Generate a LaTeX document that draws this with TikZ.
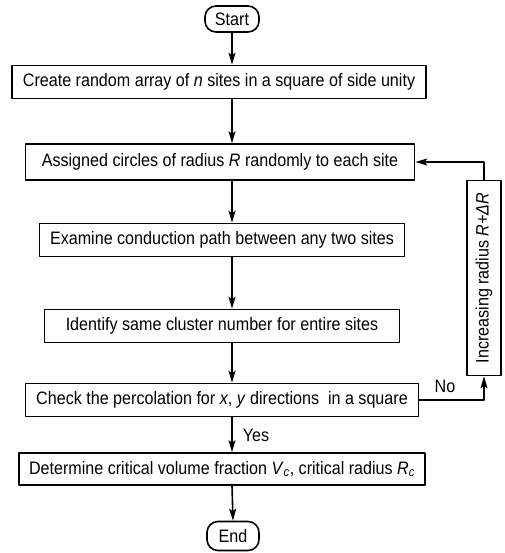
\documentclass[tikz,border=0pt]{standalone}
\usepackage{fontspec}
\setmainfont{Liberation Sans}[FakeStretch=0.895]
\usetikzlibrary{arrows.meta}
\tikzset{
  every picture/.style={line join=round, >={Stealth[length=12pt,width=7pt,inset=2.5pt]}},
  stepbox/.style={draw, line width=1.6pt, inner sep=0pt, minimum height=33pt},
  term/.style={draw, line width=1.6pt, rounded corners=11pt, inner sep=0pt, minimum width=54pt, minimum height=26pt},
  flow/.style={->, line width=1.6pt},
}
\newcommand{\subc}{\textsubscript{\itshape c}}

\begin{document}
\begin{tikzpicture}[x=1pt, y=-1pt, font=\fontsize{18}{20}\selectfont]
\useasboundingbox (0,0) rectangle (504,553);
\node[term] (start) at (232,19) {Start};
\node[stepbox, minimum width=414pt] (create) at (219,82) {Create random array of \textit{n} sites in a square of side unity};
\node[stepbox, minimum width=389pt, minimum height=36pt] (assign) at (220,162) {Assigned circles of radius \textit{R} randomly to each site};
\node[stepbox, minimum width=365pt] (examine) at (222,240) {Examine conduction path between any two sites};
\node[stepbox, minimum width=355pt] (identify) at (222,326) {Identify same cluster number for entire sites};
\node[stepbox, minimum width=393pt] (check) at (222,400) {Check the percolation for \textit{x}, \textit{y} directions\ \ in a square};
\node[stepbox, minimum width=406pt, minimum height=32pt] (determine) at (222,469) {Determine critical volume fraction \textit{V}\subc, critical radius \textit{R}\subc};
\node[term, minimum width=52pt, minimum height=29pt] (stop) at (233,536) {End};
\node[stepbox, rotate=90, minimum width=195pt, minimum height=34pt] (radius) at (484,278) {Increasing radius \textit{R+ΔR}};
\node at (445,386) {No};
\node at (256,435) {Yes};
\draw[flow] (start.south) -- (start.south |- create.north);
\draw[flow] (start.south |- create.south) -- (start.south |- assign.north);
\draw[flow] (start.south |- assign.south) -- (start.south |- examine.north);
\draw[flow] (start.south |- examine.south) -- (start.south |- identify.north);
\draw[flow] (start.south |- identify.south) -- (start.south |- check.north);
\draw[flow] (start.south |- check.south) -- (start.south |- determine.north);
\draw[flow] (start.south |- determine.south) -- (stop.north);
\draw[flow] (check.east) -| (radius.west);
\draw[flow] (radius.east) |- (assign.east);
\end{tikzpicture}
\end{document}
